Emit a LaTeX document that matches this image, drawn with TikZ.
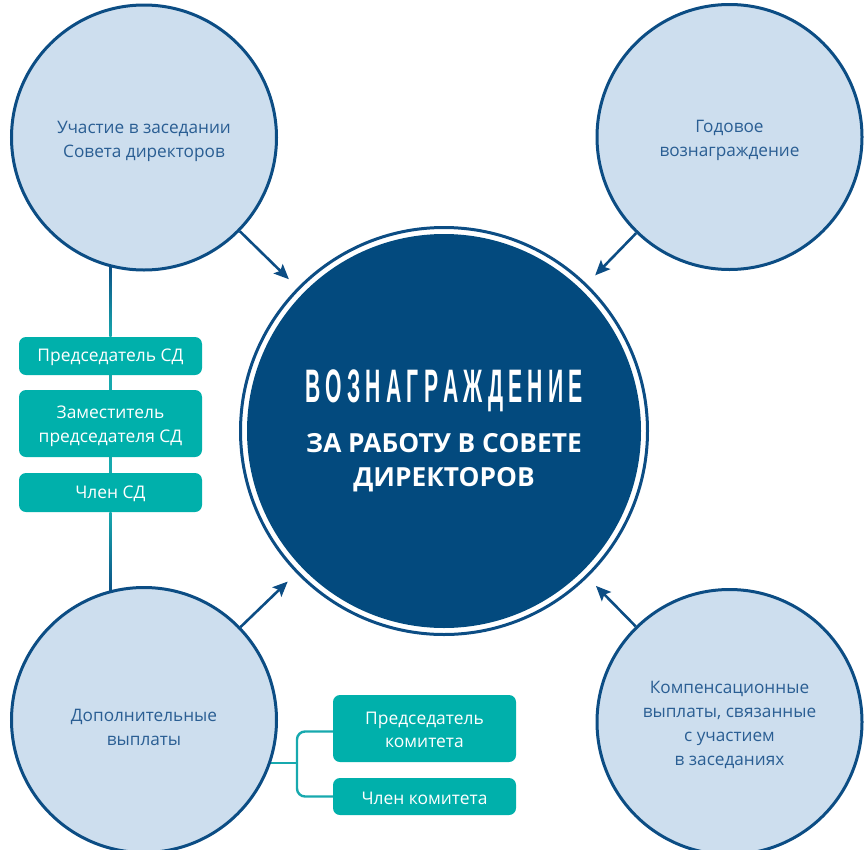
\documentclass[tikz,border=0pt]{standalone}
\usepackage{fontspec}
\setmainfont{Open Sans}
\newfontfamily\titlefont{Liberation Sans}
\usetikzlibrary{arrows.meta,calc}
\definecolor{cfill}{HTML}{CDDEEE}
\definecolor{cline}{HTML}{0C4D84}
\definecolor{cdark}{HTML}{034A7E}
\definecolor{cteal}{HTML}{00B0AB}
\definecolor{ctext}{HTML}{2A5E93}
\definecolor{tlinec}{HTML}{17A9AE}
\pgfdeclarelayer{bg}
\pgfsetlayers{bg,main}
\newcommand\tk{\kern11.5pt}
\newcommand\lines[2]{\raisebox{#1}[\height][\depth]{\begin{tabular}{@{}c@{}}#2\end{tabular}}}
\newcommand\lone[2]{\raisebox{#1}[\height][\depth]{#2}}
\begin{document}
\begin{tikzpicture}[x=1pt,y=-1pt,
  outer/.style={circle, draw=cline, fill=cfill, line width=3pt, inner sep=0pt,
    minimum size=265pt, text=ctext, align=center,
    font=\fontsize{17.2}{24}\selectfont},
  tealbox/.style={rounded corners=7pt, fill=cteal, text=white, minimum width=183pt,
    inner sep=0pt, align=center, font=\fontsize{17.4}{23.5}\selectfont},
  arr/.style={draw=cline, line width=2.6pt,
    -{Stealth[length=15pt,width=13pt,inset=3pt]}, shorten >=12pt},
  tline/.style={draw=tlinec, line width=2.4pt}
]
\useasboundingbox (0,0) rectangle (865,849);

% centre
\node[circle, draw=cline, line width=3pt, minimum size=407pt, inner sep=0pt] (ring) at (444,431) {};
\node[circle, fill=cdark, minimum size=394pt, inner sep=0pt, text=white, align=center,
  font=\fontsize{26.3}{34}\selectfont\bfseries] (core) at (444,431)
  {\lone{-2.5pt}{\begin{tabular}{@{}c@{}}\scalebox{0.45}[1]{\fontsize{47}{47}\selectfont\titlefont\bfseries
    В\tk О\tk З\tk Н\tk А\tk Г\tk Р\tk А\tk Ж\tk Д\tk Е\tk Н\tk И\tk Е}\\[16pt]
   ЗА РАБОТУ В СОВЕТЕ\\ДИРЕКТОРОВ\end{tabular}}};

% corner circles
\node[outer] (tl) at (144,137.5) {\lines{-3pt}{Участие в заседании\\Совета директоров}};
\node[outer] (tr) at (729.5,137) {\lines{-2.5pt}{Годовое\\вознаграждение}};
\node[outer] (bl) at (144,720) {\lines{-8.5pt}{Дополнительные\\выплаты}};
\node[outer] (br) at (729.5,722) {\lines{-3pt}{Компенсационные\\выплаты, связанные\\с участием\\в заседаниях}};

% teal boxes
\node[tealbox, minimum height=38pt] (b1) at (110.5,356) {\lone{-1.5pt}{Председатель СД}};
\node[tealbox, minimum height=67pt] (b2) at (110.5,423.5) {\lines{-2.5pt}{Заместитель\\председателя СД}};
\node[tealbox, minimum height=39pt] (b3) at (110.5,492.5) {\lone{-1.5pt}{Член СД}};
\node[tealbox, minimum height=67pt] (b4) at (424.5,728.5) {\lines{-3pt}{Председатель\\комитета}};
\node[tealbox, minimum height=37pt] (b5) at (424.5,796.5) {\lone{-1.5pt}{Член комитета}};

% arrows
\draw[arr] (tl) -- (ring);
\draw[arr] (tr) -- (ring);
\draw[arr] (bl) -- (ring);
\draw[arr] (br) -- (ring);

% connectors behind
\coordinate (lt) at (110.5,262);
\coordinate (lb) at (110.5,595);
\coordinate (jx) at (297,763);
\begin{pgfonlayer}{bg}
  \shade[top color=cline, bottom color=tlinec] ($(lt)+(-1.2,0)$) rectangle ($(b1.north)+(1.2,0)$);
  \draw[tline] (b1) -- (b2);
  \draw[tline] (b2) -- (b3);
  \shade[top color=tlinec, bottom color=cline] ($(b3.south)+(-1.2,0)$) rectangle ($(lb)+(1.2,0)$);
  \draw[tline] (jx) -- (jx -| bl.center);
  \draw[tline, rounded corners=8pt] ($(b4.west)+(0,3)$) -| (jx) |- (b5.west);
\end{pgfonlayer}
\end{tikzpicture}
\end{document}
